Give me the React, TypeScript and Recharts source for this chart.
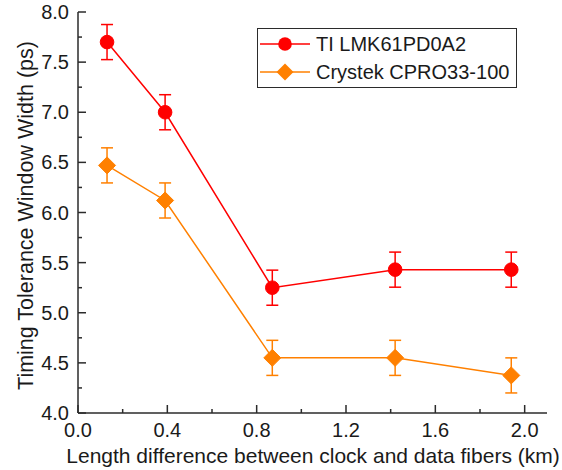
import { ComposedChart, ErrorBar, Label, Legend, Line, XAxis, YAxis } from "recharts"

const seriesNames = ["TI LMK61PD0A2", "Crystek CPRO33-100"]
const distances = [0.13, 0.39, 0.87, 1.42, 1.94]
const tiWidths = [7.7, 7.0, 5.25, 5.43, 5.43]
const tiErrors = [0.175, 0.175, 0.175, 0.175, 0.175]
const crystekWidths = [6.47, 6.12, 4.55, 4.55, 4.375]
const crystekErrors = [0.175, 0.175, 0.175, 0.175, 0.175]
const xTicks = [0, 0.2, 0.4, 0.6, 0.8, 1.0, 1.2, 1.4, 1.6, 1.8, 2.0]
const yTicks = [4, 4.25, 4.5, 4.75, 5, 5.25, 5.5, 5.75, 6, 6.25, 6.5, 6.75, 7, 7.25, 7.5, 7.75, 8]

const RED = "#ff0000"
const ORANGE = "#ff8000"
const AXIS = "#2b2b2b"
const TEXT = "#1a1a1a"
const FONT = "'Liberation Sans', Arial, sans-serif"

const data = distances.map((x, i) => ({
  x,
  ti: tiWidths[i],
  tiErr: tiErrors[i],
  cry: crystekWidths[i],
  cryErr: crystekErrors[i],
}))

const isMajor = (v: number, step: number) => {
  const r = v / step
  return Math.abs(r - Math.round(r)) < 1e-6
}

function makeXTick(side: "bottom" | "top") {
  return (props: any) => {
    const { x, y, payload } = props
    const major = isMajor(payload.value, 0.4)
    const len = major ? 8 : 4
    const dir = side === "bottom" ? -1 : 1
    return (
      <g>
        <line x1={x} x2={x} y1={y} y2={y + dir * len} stroke={AXIS} strokeWidth={1.5} />
        {side === "bottom" && major && (
          <text x={x} y={y + 17} dy="0.35em" textAnchor="middle" fontSize={20} fill={TEXT} fontFamily={FONT}>
            {payload.value.toFixed(1)}
          </text>
        )}
      </g>
    )
  }
}

function makeYTick(side: "left" | "right") {
  return (props: any) => {
    const { x, y, payload } = props
    const major = isMajor(payload.value, 0.5)
    const len = major ? 8 : 4
    const dir = side === "left" ? 1 : -1
    return (
      <g>
        <line x1={x} x2={x + dir * len} y1={y} y2={y} stroke={AXIS} strokeWidth={1.5} />
        {side === "left" && major && (
          <text x={x - 9} y={y} dy="0.35em" textAnchor="end" fontSize={20} fill={TEXT} fontFamily={FONT}>
            {payload.value.toFixed(1)}
          </text>
        )}
      </g>
    )
  }
}

function CircleDot(props: any) {
  const { cx, cy } = props
  if (cx == null || cy == null) return <g />
  return <circle cx={cx} cy={cy} r={6.8} fill={RED} stroke={RED} />
}

function DiamondDot(props: any) {
  const { cx, cy } = props
  if (cx == null || cy == null) return <g />
  const s = 8.5
  return (
    <path
      d={`M${cx},${cy - s}L${cx + s},${cy}L${cx},${cy + s}L${cx - s},${cy}Z`}
      fill={ORANGE}
      stroke={ORANGE}
    />
  )
}

function LegendBox(props: any) {
  const items = [...(props.payload ?? [])].sort(
    (a: any, b: any) => seriesNames.indexOf(a.value) - seriesNames.indexOf(b.value)
  )
  return (
    <div
      style={{
        border: `1px solid ${AXIS}`,
        background: "#fff",
        width: 258,
        paddingTop: 1,
        paddingBottom: 1,
        fontFamily: FONT,
        fontSize: 20,
        color: TEXT,
      }}
    >
      {items.map((item: any) => (
        <div key={item.value} style={{ display: "flex", alignItems: "center", height: 28 }}>
          <svg width={50} height={28} style={{ marginLeft: 2, marginRight: 6 }}>
            <line x1={0} x2={50} y1={14} y2={14} stroke={item.color} strokeWidth={1.5} />
            {item.dataKey === "ti" ? (
              <circle cx={25} cy={14} r={6.8} fill={RED} />
            ) : (
              <path d="M25,5.5L33.5,14L25,22.5L16.5,14Z" fill={ORANGE} />
            )}
          </svg>
          <span style={{ whiteSpace: "nowrap" }}>{item.value}</span>
        </div>
      ))}
    </div>
  )
}

export default function App() {
  return (
    <div style={{ position: "absolute", left: 0, top: 0, background: "#fff" }}>
      <ComposedChart
        width={562}
        height={470}
        data={data}
        margin={{ top: 12, right: 15, bottom: 0, left: 0 }}
      >
        <XAxis
          dataKey="x"
          type="number"
          domain={[0, 2.1]}
          ticks={xTicks}
          interval={0}
          allowDataOverflow
          height={57}
          tickSize={0}
          tickMargin={0}
          tickLine={false}
          axisLine={{ stroke: AXIS, strokeWidth: 1.5 }}
          tick={makeXTick("bottom")}
        >
          <Label
            content={(p: any) => {
              const vb = p.viewBox
              return (
                <text
                  x={vb.x + vb.width / 2 + 0.5}
                  y={vb.y + 49.5}
                  textAnchor="middle"
                  fontSize={21}
                  fill={TEXT}
                  fontFamily={FONT}
                >
                  Length difference between clock and data fibers (km)
                </text>
              )
            }}
          />
        </XAxis>
        <XAxis
          xAxisId="top"
          orientation="top"
          dataKey="x"
          type="number"
          domain={[0, 2.1]}
          ticks={xTicks}
          interval={0}
          allowDataOverflow
          height={0}
          tickSize={0}
          tickMargin={0}
          tickLine={false}
          axisLine={{ stroke: AXIS, strokeWidth: 1.5 }}
          tick={makeXTick("top")}
        />
        <YAxis
          type="number"
          domain={[4, 8]}
          ticks={yTicks}
          interval={0}
          allowDataOverflow
          width={78}
          tickSize={0}
          tickMargin={0}
          tickLine={false}
          axisLine={{ stroke: AXIS, strokeWidth: 1.5 }}
          tick={makeYTick("left")}
        >
          <Label
            content={(p: any) => {
              const vb = p.viewBox
              const cy = vb.y + vb.height / 2 + 3
              return (
                <text
                  x={33}
                  y={cy}
                  transform={`rotate(-90 33 ${cy})`}
                  textAnchor="middle"
                  fontSize={21.5}
                  fill={TEXT}
                  fontFamily={FONT}
                >
                  Timing Tolerance Window Width (ps)
                </text>
              )
            }}
          />
        </YAxis>
        <YAxis
          yAxisId="right"
          orientation="right"
          type="number"
          domain={[4, 8]}
          ticks={yTicks}
          interval={0}
          allowDataOverflow
          width={0}
          tickSize={0}
          tickMargin={0}
          tickLine={false}
          axisLine={{ stroke: AXIS, strokeWidth: 1.5 }}
          tick={makeYTick("right")}
        />
        <Legend
          layout="vertical"
          align="center"
          verticalAlign="middle"
          content={<LegendBox />}
          wrapperStyle={{ left: 257, top: 28, width: "auto" }}
        />
        <Line
          type="linear"
          dataKey="ti"
          name={seriesNames[0]}
          stroke={RED}
          strokeWidth={1.5}
          dot={<CircleDot />}
          activeDot={false}
          isAnimationActive={false}
        >
          <ErrorBar dataKey="tiErr" direction="y" width={6} stroke={RED} strokeWidth={1.5} isAnimationActive={false} />
        </Line>
        <Line
          type="linear"
          dataKey="cry"
          name={seriesNames[1]}
          stroke={ORANGE}
          strokeWidth={1.5}
          dot={<DiamondDot />}
          activeDot={false}
          isAnimationActive={false}
        >
          <ErrorBar dataKey="cryErr" direction="y" width={6} stroke={ORANGE} strokeWidth={1.5} isAnimationActive={false} />
        </Line>
      </ComposedChart>
    </div>
  )
}
